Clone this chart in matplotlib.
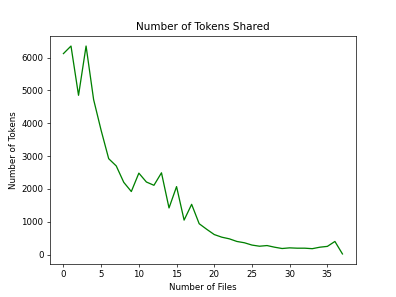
import matplotlib
matplotlib.use("Agg")
import matplotlib.pyplot as plt

files = list(range(38))
tokens = [6120, 6350, 4850, 6350, 4720, 3780, 2920, 2700, 2200, 1920, 2480, 2210, 2110, 2490,
          1420, 2070, 1050, 1530, 940, 770, 610, 530, 480, 400, 360, 290, 255, 275, 225, 185,
          205, 195, 195, 180, 225, 250, 400, 20]

fig = plt.figure(figsize=(6.4, 4.8), dpi=61.875)
ax = fig.add_subplot(111)
ax.plot(files, tokens, color="green")
ax.set_title("Number of Tokens Shared")
ax.set_xlabel("Number of Files")
ax.set_ylabel("Number of Tokens")
fig.savefig("out.png")
